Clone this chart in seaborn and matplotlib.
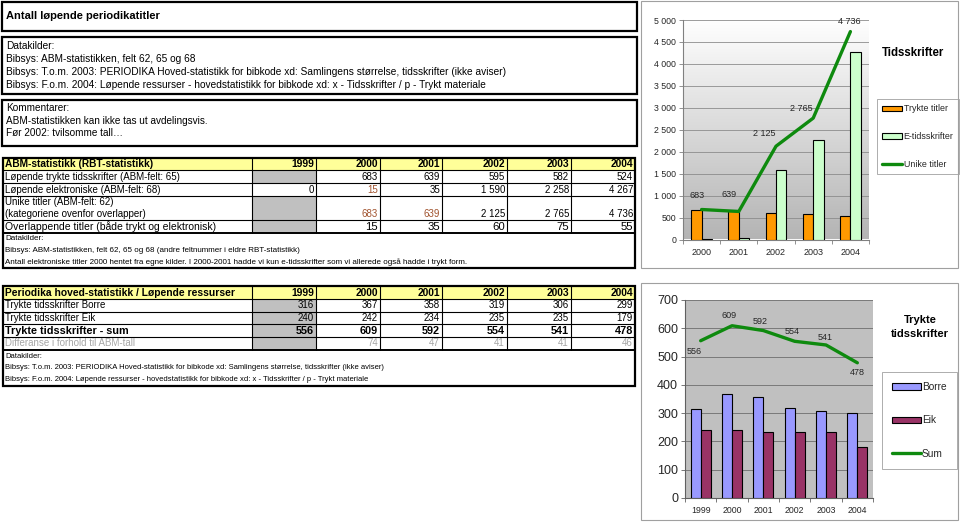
import numpy as np
import pandas as pd
import matplotlib
matplotlib.use('Agg')
import matplotlib.pyplot as plt
import seaborn as sns
from matplotlib.patches import Rectangle
from matplotlib.colors import LinearSegmentedColormap
from matplotlib.ticker import FuncFormatter, MultipleLocator, FixedLocator

# ---------------- data ----------------
years = ['1999', '2000', '2001', '2002', '2003', '2004']
abm_printed = [None, 683, 639, 595, 582, 524]
abm_electronic = [0, 15, 35, 1590, 2258, 4267]
abm_unique = [None, 683, 639, 2125, 2765, 4736]
abm_overlap = [None, 15, 35, 60, 75, 55]
borre = [316, 367, 358, 319, 306, 299]
eik = [240, 242, 234, 235, 235, 179]
sum_printed = [556, 609, 592, 554, 541, 478]
diff_abm = [None, 74, 47, 41, 41, 46]

title_main = 'Antall løpende periodikatitler'
sources_top = ['Datakilder:',
               'Bibsys: ABM-statistikken, felt 62, 65 og 68',
               'Bibsys: T.o.m. 2003: PERIODIKA Hoved-statistikk for bibkode xd: Samlingens størrelse, tidsskrifter (ikke aviser)',
               'Bibsys: F.o.m. 2004: Løpende ressurser - hovedstatistikk for bibkode xd: x - Tidsskrifter / p - Trykt materiale']
comments = ['Kommentarer:', 'ABM-statistikken kan ikke tas ut avdelingsvis.', 'Før 2002: tvilsomme tall…']
t1_header = 'ABM-statistikk (RBT-statistikk)'
t1_labels = ['Løpende trykte tidsskrifter (ABM-felt: 65)',
             'Løpende elektroniske (ABM-felt: 68)',
             'Unike titler (ABM-felt: 62)\n(kategoriene ovenfor overlapper)',
             'Overlappende titler (både trykt og elektronisk)']
t1_notes = ['Datakilder:',
            'Bibsys: ABM-statistikken, felt 62, 65 og 68 (andre feltnummer i eldre RBT-statistikk)',
            'Antall elektroniske titler 2000 hentet fra egne kilder. I 2000-2001 hadde vi kun e-tidsskrifter som vi allerede også hadde i trykt form.']
t2_header = 'Periodika hoved-statistikk / Løpende ressurser'
t2_labels = ['Trykte tidsskrifter Borre', 'Trykte tidsskrifter Eik',
             'Trykte tidsskrifter - sum', 'Differanse i forhold til ABM-tall']
t2_notes = ['Datakilder:',
            'Bibsys: T.o.m. 2003: PERIODIKA Hoved-statistikk for bibkode xd: Samlingens størrelse, tidsskrifter (ikke aviser)',
            'Bibsys: F.o.m. 2004: Løpende ressurser - hovedstatistikk for bibkode xd: x - Tidsskrifter / p - Trykt materiale']

# ---------------- setup ----------------
sns.set_theme(style='white')
plt.rcParams['font.family'] = ['Liberation Sans', 'DejaVu Sans']

W, H = 960, 522
fig = plt.figure(figsize=(9.6, 5.22), dpi=100)
fig.patch.set_facecolor('white')


def fx(x):
    return x / W


def fy(y):
    return 1 - y / H


def box(x0, y0, x1, y1, fc='none', ec='black', lw=1.0, z=1):
    fig.add_artist(Rectangle((fx(x0), fy(y1)), fx(x1) - fx(x0), fy(y0) - fy(y1),
                             transform=fig.transFigure, facecolor=fc, edgecolor=ec,
                             linewidth=lw, zorder=z))


def hline(x0, x1, y, lw=0.8, color='black'):
    fig.add_artist(plt.Line2D([fx(x0), fx(x1)], [fy(y), fy(y)], transform=fig.transFigure,
                              color=color, linewidth=lw, zorder=3))


def vline(x, y0, y1, lw=0.8, color='black'):
    fig.add_artist(plt.Line2D([fx(x), fx(x)], [fy(y0), fy(y1)], transform=fig.transFigure,
                              color=color, linewidth=lw, zorder=3))


def txt(x, y, s, size=7.0, ha='left', weight='normal', color='black', va='center'):
    fig.text(fx(x), fy(y), s, fontsize=size, ha=ha, va=va, fontweight=weight, color=color, zorder=5)


def fmt(v):
    return '' if v is None else f'{v:,}'.replace(',', ' ')


BROWN = '#A0522D'
YELLOW = '#FFFF99'
GREYCELL = '#C0C0C0'

# ---------------- top-left text boxes ----------------
box(2, 2, 637, 31, lw=1.6)
txt(6, 16, title_main, size=8.0, weight='bold')

box(2, 37, 637, 94, lw=1.6)
for i, s in enumerate(sources_top):
    txt(6, 46 + i * 13.0, s, size=7.25)

box(2, 100, 637, 146, lw=1.6)
for i, s in enumerate(comments):
    txt(6, 108 + i * 12.5, s, size=7.2)

# ---------------- table 1 ----------------
cols = [3, 252, 316, 380, 442, 507, 571, 635]
r1 = [158, 170, 183, 196, 220, 233]
box(cols[0], r1[0], cols[-1], r1[1], fc=YELLOW, ec='none', z=0)
rows1 = [abm_printed, abm_electronic, abm_unique, abm_overlap]
for ri, vals in enumerate(rows1):
    if vals[0] is None:
        box(cols[1], r1[ri + 1], cols[2], r1[ri + 2], fc=GREYCELL, ec='none', z=0)
for c in cols[1:-1]:
    vline(c, r1[0], r1[-1])
for y in r1[1:-1]:
    hline(cols[0], cols[-1], y)
hline(cols[0], cols[-1], r1[-1], lw=1.4)
box(cols[0], r1[0], cols[-1], 268, lw=1.6, z=4)

ymid = (r1[0] + r1[1]) / 2
txt(5, ymid, t1_header, size=7.3, weight='bold')
for j, yr in enumerate(years):
    txt(cols[j + 2] - 2, ymid, yr, size=7.4, ha='right', weight='bold')

for ri, (lab, vals) in enumerate(zip(t1_labels, rows1)):
    ytop, ybot = r1[ri + 1], r1[ri + 2]
    size = 7.5 if ri == 3 else 7.0
    if '\n' in lab:
        l1, l2 = lab.split('\n')
        txt(5, ytop + 6, l1, size=size)
        txt(5, ybot - 6, l2, size=size)
        yv = ybot - 6
    else:
        txt(5, (ytop + ybot) / 2, lab, size=size)
        yv = (ytop + ybot) / 2
    for j, v in enumerate(vals):
        color = 'black'
        if (ri == 1 and j == 1) or (ri == 2 and j in (1, 2)):
            color = BROWN
        txt(cols[j + 2] - 2, yv, fmt(v), size=(8.2 if ri == 3 else 7.0), ha='right', color=color)

for i, s in enumerate(t1_notes):
    txt(5, 239 + i * 11.6, s, size=5.8)

# ---------------- table 2 ----------------
r2 = [286, 299, 312, 324, 337, 350]
box(cols[0], r2[0], cols[-1], r2[1], fc=YELLOW, ec='none', z=0)
box(cols[1], r2[1], cols[2], r2[-1], fc=GREYCELL, ec='none', z=0)
for c in cols[1:-1]:
    vline(c, r2[0], r2[-1])
for y in r2[1:-1]:
    hline(cols[0], cols[-1], y)
hline(cols[0], cols[-1], r2[-1], lw=1.4)
box(cols[0], r2[0], cols[-1], 386, lw=1.6, z=4)

ymid = (r2[0] + r2[1]) / 2
txt(5, ymid, t2_header, size=7.4, weight='bold')
for j, yr in enumerate(years):
    txt(cols[j + 2] - 2, ymid, yr, size=7.4, ha='right', weight='bold')
rows2 = [borre, eik, sum_printed, diff_abm]
for ri, (lab, vals) in enumerate(zip(t2_labels, rows2)):
    yv = (r2[ri + 1] + r2[ri + 2]) / 2
    weight = 'bold' if ri == 2 else 'normal'
    color = '#A6A6A6' if ri == 3 else 'black'
    size = 7.8 if ri == 2 else 7.0
    txt(5, yv, lab, size=size, weight=weight, color=color)
    for j, v in enumerate(vals):
        txt(cols[j + 2] - 2, yv, fmt(v), size=size, ha='right', weight=weight, color=color)
for i, s in enumerate(t2_notes):
    txt(5, 356 + i * 11.6, s, size=5.5)

# ---------------- chart frames ----------------
box(641, 1, 958, 268, ec='#A0A0A0', lw=0.8)
box(641, 283, 958, 520, ec='#A0A0A0', lw=0.8)

GREEN = '#0E8A0E'

# ---------------- top chart ----------------
ax1 = fig.add_axes([fx(683), fy(239.5), fx(869) - fx(683), (239.5 - 20) / H])
grad = np.linspace(0, 1, 256).reshape(-1, 1)
ax1.imshow(grad, cmap=LinearSegmentedColormap.from_list('g', ['#FFFFFF', '#B4B4B4']),
           extent=[0, 1, 0, 1], transform=ax1.transAxes, aspect='auto', zorder=0)
top_years = years[1:]
df_top = pd.DataFrame({
    'year': top_years * 2,
    'series': ['Trykte titler'] * 5 + ['E-tidsskrifter'] * 5,
    'value': abm_printed[1:] + abm_electronic[1:],
})
sns.barplot(data=df_top, x='year', y='value', hue='series',
            palette={'Trykte titler': '#FF9900', 'E-tidsskrifter': '#CCFFCC'},
            saturation=1, edgecolor='black', linewidth=0.8, width=0.56, ax=ax1, zorder=3)
sns.lineplot(x=np.arange(5), y=abm_unique[1:], color=GREEN, linewidth=2.4, ax=ax1,
             label='Unike titler', zorder=4)
offs1 = [(-5, 10), (-10, 12), (-12, 8), (-12, 5), (-1, 6)]
for i, v in enumerate(abm_unique[1:]):
    ax1.annotate(fmt(v), (i, v), xytext=offs1[i], textcoords='offset pixels',
                 ha='center', va='bottom', fontsize=6.5, zorder=6)
ax1.set_xlim(-0.5, 4.5)
ax1.set_ylim(0, 5000)
ax1.set_aspect('auto')
ax1.yaxis.set_major_locator(MultipleLocator(500))
ax1.yaxis.set_major_formatter(FuncFormatter(lambda v, p: fmt(int(v))))
ax1.set_axisbelow(True)
ax1.yaxis.grid(True, color='#8C8C8C', linewidth=0.6)
ax1.xaxis.grid(False)
ax1.set_xlabel('')
ax1.set_ylabel('')
for s in ['top', 'right']:
    ax1.spines[s].set_visible(False)
for s in ['left', 'bottom']:
    ax1.spines[s].set_color('#808080')
    ax1.spines[s].set_linewidth(0.8)
ax1.tick_params(axis='y', which='major', labelsize=6.3, length=3, width=0.6, color='#808080', pad=2, left=True)
ax1.tick_params(axis='x', which='major', labelsize=6.5, length=0, pad=6)
ax1.xaxis.set_minor_locator(FixedLocator(np.arange(-0.5, 5, 1)))
ax1.tick_params(axis='x', which='minor', length=3, width=0.6, color='#808080', bottom=True)
h, l = ax1.get_legend_handles_labels()
ax1.legend(h, l, loc='upper left', bbox_to_anchor=(fx(877), fy(99)), bbox_transform=fig.transFigure,
           fontsize=6.4, labelspacing=2.1, handlelength=2.2, handleheight=0.55, handletextpad=0.2,
           borderpad=0.6, borderaxespad=0, frameon=True, fancybox=False, framealpha=1,
           edgecolor='#A0A0A0')
ax1.get_legend().get_frame().set_linewidth(0.6)
txt(882, 53, 'Tidsskrifter', size=8.3, weight='bold')

# ---------------- bottom chart ----------------
ax2 = fig.add_axes([fx(685), fy(498), fx(873) - fx(685), (498 - 300) / H])
ax2.set_facecolor('#C0C0C0')
df_bot = pd.DataFrame({
    'year': years * 2,
    'series': ['Borre'] * 6 + ['Eik'] * 6,
    'value': borre + eik,
})
sns.barplot(data=df_bot, x='year', y='value', hue='series',
            palette={'Borre': '#9999FF', 'Eik': '#993366'},
            saturation=1, edgecolor='black', linewidth=0.8, width=0.64, ax=ax2, zorder=3)
sns.lineplot(x=np.arange(6), y=sum_printed, color=GREEN, linewidth=2.4, ax=ax2,
             label='Sum', zorder=4)
offs2 = [(-6, -6), (-3, 6), (-3, 5), (-3, 5), (-1, 3), (0, -5)]
for i, v in enumerate(sum_printed):
    ax2.annotate(fmt(v), (i, v), xytext=offs2[i], textcoords='offset pixels',
                 ha='center', va=('top' if offs2[i][1] < 0 else 'bottom'), fontsize=6.5, zorder=6)
ax2.set_xlim(-0.5, 5.5)
ax2.set_ylim(0, 700)
ax2.yaxis.set_major_locator(MultipleLocator(100))
ax2.set_axisbelow(True)
ax2.yaxis.grid(True, color='#6E6E6E', linewidth=0.6)
ax2.xaxis.grid(False)
ax2.set_xlabel('')
ax2.set_ylabel('')
for s in ['top', 'right']:
    ax2.spines[s].set_visible(False)
for s in ['left', 'bottom']:
    ax2.spines[s].set_color('#606060')
    ax2.spines[s].set_linewidth(0.8)
ax2.tick_params(axis='y', which='major', labelsize=9, length=3, width=0.6, color='#606060', pad=2, left=True)
ax2.tick_params(axis='x', which='major', labelsize=6.3, length=0, pad=6)
ax2.xaxis.set_minor_locator(FixedLocator(np.arange(-0.5, 6, 1)))
ax2.tick_params(axis='x', which='minor', length=3, width=0.6, color='#606060', bottom=True)
h, l = ax2.get_legend_handles_labels()
ax2.legend(h, l, loc='upper left', bbox_to_anchor=(fx(882), fy(372)), bbox_transform=fig.transFigure,
           fontsize=7.3, labelspacing=2.3, handlelength=2.8, handleheight=0.55, handletextpad=0.15,
           borderpad=1.0, borderaxespad=0, frameon=True, fancybox=False, framealpha=1,
           edgecolor='#A0A0A0')
ax2.get_legend().get_frame().set_linewidth(0.6)
txt(920, 320, 'Trykte', size=8.0, weight='bold', ha='center')
txt(920, 334, 'tidsskrifter', size=8.0, weight='bold', ha='center')

fig.savefig('out.png', dpi=100, facecolor='white')
